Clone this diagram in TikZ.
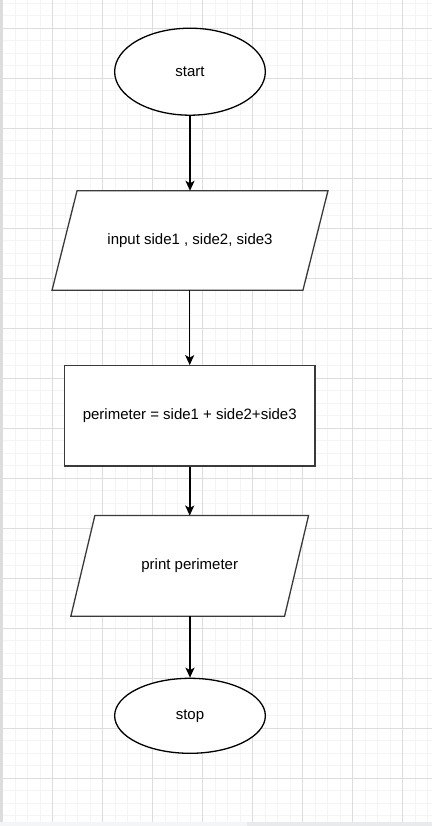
\documentclass[tikz,border=0pt]{standalone}
\usepackage{fontspec}
\setmainfont{Liberation Sans}
\usetikzlibrary{arrows.meta,shapes.geometric,calc}
\definecolor{gridmajor}{HTML}{DDDDDD}
\definecolor{gridminor}{HTML}{F4F4F4}
\definecolor{boxline}{HTML}{3A3A3A}
\definecolor{edgegray}{HTML}{DCDCDC}
\definecolor{barlight}{HTML}{F4F5F7}
\definecolor{bardark}{HTML}{E9EAEC}
\tikzset{
  lbl/.style={font=\fontsize{15}{18}\selectfont, text=black},
  term/.style={ellipse, draw=black, line width=1.3pt, fill=white, inner sep=0pt, minimum width=150.7pt, lbl},
  ghost/.style={rectangle, inner sep=0pt, lbl},
  procbox/.style={rectangle, draw=boxline, line width=1.3pt, fill=white, inner sep=0pt, minimum width=250.7pt, minimum height=100.3pt, lbl},
  para/.style={draw=boxline, line width=1.3pt, fill=white},
  flow/.style={draw=black, line width=1.4pt, -{Stealth[length=10pt,width=9pt,inset=2.5pt]}},
}
\begin{document}
\begin{tikzpicture}[x=1pt,y=-1pt]
\useasboundingbox (0,0) rectangle (432,826);
% background grid
\fill[white] (0,0) rectangle (432,826);
\foreach \i in {0,...,35} {\draw[gridminor, line width=0.8pt] ({2.7+12.5*\i},0) -- ({2.7+12.5*\i},821.7);}
\foreach \j in {0,...,65} {\draw[gridminor, line width=0.8pt] (2,{3.3+12.5*\j}) -- (432,{3.3+12.5*\j});}
\foreach \i in {0,...,8} {\draw[gridmajor, line width=0.8pt] ({2.7+50*\i},0) -- ({2.7+50*\i},821.7);}
\foreach \j in {0,...,15} {\draw[gridmajor, line width=0.8pt] (2,{28.3+50*\j}) -- (432,{28.3+50*\j});}
\fill[edgegray] (0,0) rectangle (2,821.7);
\fill[barlight] (0,821.7) rectangle (432,826);
\fill[bardark] (247,821.7) rectangle (432,826);

% nodes
\node[term, minimum height=87pt] (start) at (190,71.7) {start};
\node[ghost, minimum width=275.5pt, minimum height=99pt] (in) at (190,240.5) {};
\draw[para] ([xshift=25pt]in.north west) -- (in.north east) -- ([xshift=-25pt]in.south east) -- (in.south west) -- cycle;
\node[lbl] (intext) at (190,241) {input side1 , side2, side3};
\node[procbox] (calc) at (189.7,415.9) {perimeter = side1 + side2+side3};
\node[ghost, minimum width=237.3pt, minimum height=100.3pt] (out) at (189.7,565.9) {};
\draw[para] ([xshift=24pt]out.north west) -- (out.north east) -- ([xshift=-24pt]out.south east) -- (out.south west) -- cycle;
\node[lbl] (outtext) at (189.7,566) {print perimeter};
\node[term, minimum height=75pt] (stop) at (190,715.8) {stop};

% connectors
\draw[flow] (start.south) -- (start.south |- in.north);
\draw[flow] (in.south -| calc.north) -- (calc.north);
\draw[flow, line width=1.9pt] (calc.south) -- (calc.south |- out.north);
\draw[flow] (out.south -| stop.north) -- (stop.north);
\end{tikzpicture}
\end{document}
